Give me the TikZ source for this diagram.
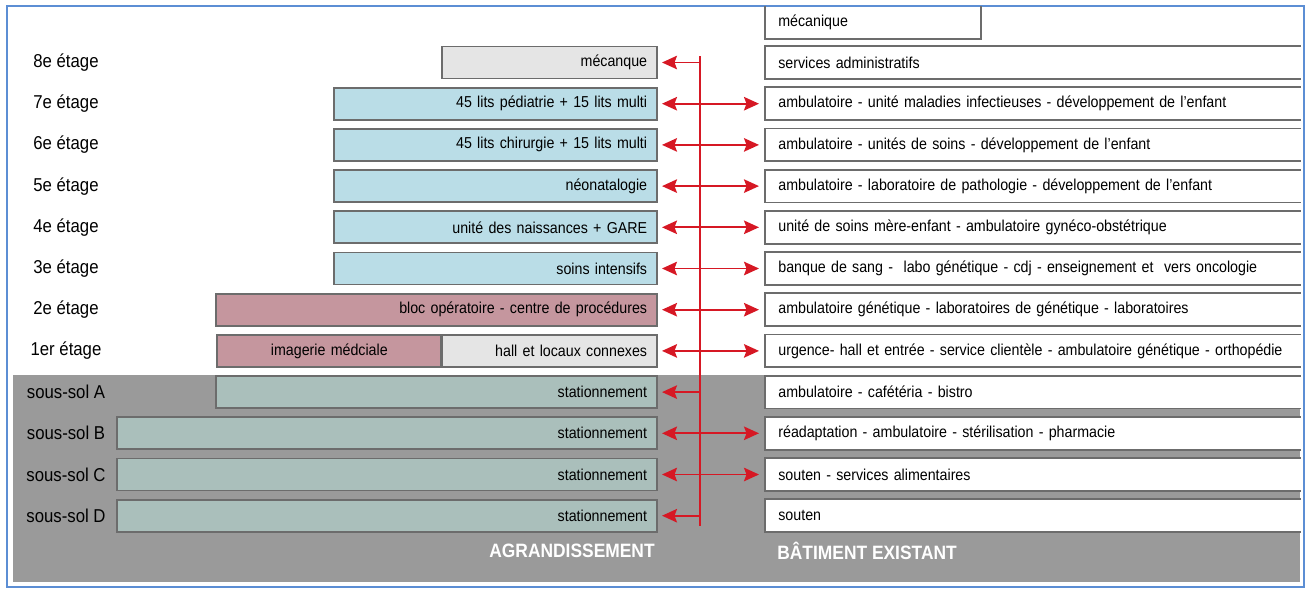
\documentclass[tikz,border=0pt]{standalone}
\usepackage{fontspec}
\setmainfont{Liberation Sans}[FakeStretch=0.9]
\usepackage{tikz}
\usetikzlibrary{arrows.meta,positioning,calc}
\definecolor{floorblue}{RGB}{186,221,231}
\definecolor{opmauve}{RGB}{197,150,158}
\definecolor{hallgray}{RGB}{229,229,229}
\definecolor{parkgreen}{RGB}{170,191,187}
\definecolor{basegray}{RGB}{154,154,154}
\definecolor{linkred}{RGB}{214,24,36}
\definecolor{frameblue}{RGB}{92,142,212}
\definecolor{edgegray}{RGB}{108,108,108}
\newcommand{\boxfont}{\fontsize{9}{10}\selectfont}
\newcommand{\floorfont}{\fontsize{10.6}{12}\selectfont}
\newcommand{\footfont}{\fontsize{11}{13}\selectfont\bfseries}

\begin{document}
\begin{tikzpicture}[x=0.02cm,y=-0.02cm]
  % Floor-by-floor section: extension (left) linked to existing building (right)
  \def\pxu{0.02cm}       % one pixel
  \def\yo{62.5}          % centre of the top row
  \def\ysp{41.2}         % row spacing
  \tikzset{
    lbox/.style={draw=edgegray, line width=1pt, rectangle, anchor=east,
      minimum height=32*\pxu, inner xsep=10*\pxu, inner ysep=0pt,
      font=\boxfont, align=right, text width=#1*\pxu-20*\pxu},
    rbox/.style={fill=white, rectangle, anchor=west,
      minimum height=32*\pxu, inner xsep=13*\pxu, inner ysep=0pt,
      font=\boxfont, align=left, text width=509*\pxu},
    redge/.style={draw=edgegray, line width=1pt},
    floorlab/.style={font=\floorfont, inner sep=0pt},
    footlab/.style={font=\footfont, text=white, inner sep=0pt},
    link/.style={draw=linkred, line width=1.1pt},
    onearr/.style={link, -{Stealth[length=3mm,width=2.7mm,inset=0.5mm]}, shorten >=4*\pxu},
    twoarr/.style={link, {Stealth[length=3mm,width=2.7mm,inset=0.5mm]}-{Stealth[length=3mm,width=2.7mm,inset=0.5mm]},
      shorten <=4*\pxu, shorten >=6*\pxu}
  }
  \useasboundingbox (0,0) rectangle (1309,589);
  % --- Basement band and frame ---
  \fill[basegray] (13,375) rectangle (1300,582);
  \draw[frameblue, line width=0.9pt] (7,6) rectangle (1304,587);
  % --- Floor labels ---
  \foreach \lab [count=\i from 0] in {8e étage,7e étage,6e étage,5e étage,
      4e étage,3e étage,2e étage,1er étage,sous-sol A,sous-sol B,sous-sol C,sous-sol D} {
    \pgfmathsetmacro{\yr}{\yo+\i*\ysp}
    \node[floorlab] (fl\i) at (66,\yr) {\lab};
  }
  % --- Extension (agrandissement) ---
  \node[lbox=215, fill=hallgray]  (a0) at (658,\yo) {mécanque};
  \node[lbox=323, fill=floorblue] (a1) at (658,\yo+1*\ysp) {45 lits pédiatrie + 15 lits multi};
  \node[lbox=323, fill=floorblue] (a2) at (658,\yo+2*\ysp) {45 lits chirurgie + 15 lits multi};
  \node[lbox=323, fill=floorblue] (a3) at (658,\yo+3*\ysp) {néonatalogie};
  \node[lbox=323, fill=floorblue] (a4) at (658,\yo+4*\ysp) {unité des naissances + GARE};
  \node[lbox=323, fill=floorblue] (a5) at (658,\yo+5*\ysp) {soins intensifs};
  \node[lbox=441, fill=opmauve]   (a6) at (658,\yo+6*\ysp) {bloc opératoire - centre de procédures};
  \node[lbox=215, fill=hallgray]  (a7) at (658,\yo+7*\ysp) {hall et locaux connexes};
  \node[lbox=224, fill=opmauve, align=center] (a7b) at ([xshift=1*\pxu]a7.west) {imagerie médciale};
  \node[lbox=441, fill=parkgreen] (a8) at (658,\yo+8*\ysp) {stationnement};
  \node[lbox=540, fill=parkgreen] (a9) at (658,\yo+9*\ysp) {stationnement};
  \node[lbox=540, fill=parkgreen] (a10) at (658,\yo+10*\ysp) {stationnement};
  \node[lbox=540, fill=parkgreen] (a11) at (658,\yo+11*\ysp) {stationnement};
  % --- Existing building (bâtiment existant) ---
  \node[rbox, text width=189*\pxu, anchor=south west] (bm) at (765,39) {mécanique};
  \draw[redge] (bm.north west) -- (bm.south west) -- (bm.south east) -- (bm.north east);
  \node[rbox] (b0) at (765,\yo) {services administratifs};
  \node[rbox] (b1) at (765,\yo+1*\ysp) {ambulatoire - unité maladies infectieuses - développement de l'enfant};
  \node[rbox] (b2) at (765,\yo+2*\ysp) {ambulatoire - unités de soins - développement de l'enfant};
  \node[rbox] (b3) at (765,\yo+3*\ysp) {ambulatoire - laboratoire de pathologie - développement de l'enfant};
  \node[rbox] (b4) at (765,\yo+4*\ysp) {unité de soins mère-enfant - ambulatoire gynéco-obstétrique};
  \node[rbox] (b5) at (765,\yo+5*\ysp) {banque de sang - \ labo génétique - cdj - enseignement et \ vers oncologie};
  \node[rbox] (b6) at (765,\yo+6*\ysp) {ambulatoire génétique - laboratoires de génétique - laboratoires};
  \node[rbox] (b7) at (765,\yo+7*\ysp) {urgence- hall et entrée - service clientèle - ambulatoire génétique - orthopédie};
  \node[rbox] (b8) at (765,\yo+8*\ysp) {ambulatoire - cafétéria - bistro};
  \node[rbox] (b9) at (765,\yo+9*\ysp) {réadaptation - ambulatoire - stérilisation - pharmacie};
  \node[rbox] (b10) at (765,\yo+10*\ysp) {souten - services alimentaires};
  \node[rbox] (b11) at (765,\yo+11*\ysp) {souten};
  \foreach \n in {0,...,11}
    \draw[redge] (b\n.north east) -- (b\n.north west) -- (b\n.south west) -- (b\n.south east);
  % --- Vertical link and arrows ---
  \coordinate (sTop) at (700,56);
  \coordinate (sBot) at (700,526);
  \draw[link] (sTop) -- (sBot);
  \foreach \n in {0,8,11}
    \draw[onearr] (a\n.east -| sTop) -- (a\n.east);
  \foreach \n in {1,...,7,9,10}
    \draw[twoarr] (a\n.east) -- (b\n.west);
  % --- Footer ---
  \node[footlab, anchor=east] (agr) at (655,551) {AGRANDISSEMENT};
  \node[footlab, anchor=west] (bat) at (777,551) {BÂTIMENT EXISTANT};
\end{tikzpicture}
\end{document}
